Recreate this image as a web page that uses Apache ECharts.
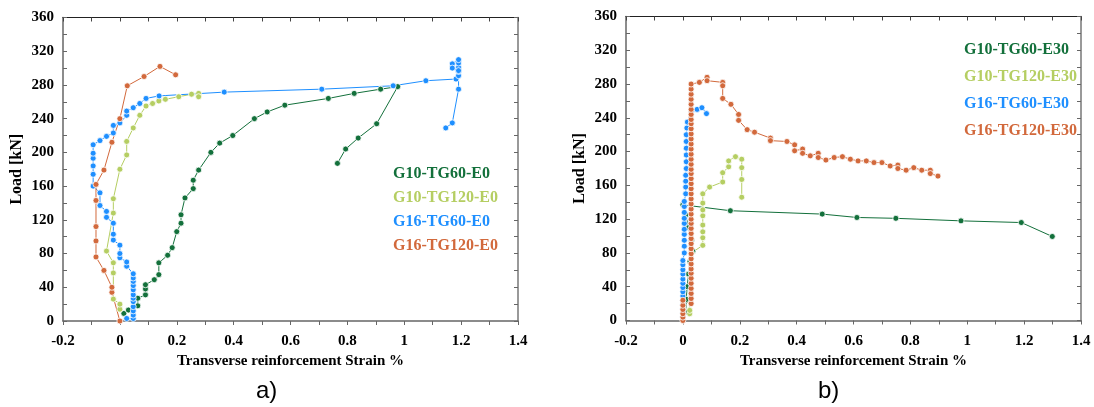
<!DOCTYPE html>
<html>
<head>
<meta charset="utf-8">
<script src="https://cdn.jsdelivr.net/npm/echarts@6/dist/echarts.min.js"></script>
<style>
  html, body { margin: 0; padding: 0; background: #fff; }
  #chart { width: 1094px; height: 407px; }
</style>
</head>
<body>
<div id="chart"></div>
<script>
// [strain %, load kN] pairs in the order the curves run

// panel a) E0
const g10tg60e0 = [[0.014, 9], [0.03, 13], [0.063, 18], [0.063, 27], [0.09, 31], [0.09, 38], [0.09, 43], [0.121, 49],
  [0.137, 55], [0.137, 69], [0.168, 78], [0.184, 87], [0.2, 106], [0.215, 116], [0.215, 126], [0.229, 146],
  [0.258, 157], [0.258, 167], [0.277, 179], [0.32, 200], [0.351, 211], [0.397, 220], [0.473, 240], [0.518, 248],
  [0.58, 256], [0.733, 264], [0.824, 270], [0.917, 275], [0.977, 278], [0.903, 234], [0.838, 217], [0.794, 204],
  [0.765, 187]]
const g10tg120e0 = [[0, 14], [0, 20], [-0.023, 26], [-0.023, 57], [-0.023, 69], [-0.047, 83], [-0.023, 128],
  [-0.023, 145], [0, 180], [0.024, 197], [0.024, 213], [0.047, 229], [0.07, 244], [0.092, 255], [0.115, 258],
  [0.137, 261], [0.16, 263], [0.207, 266], [0.252, 269], [0.277, 270], [0.277, 266]]
const g16tg60e0 = [[0.024, 3], [0.047, 3], [0.047, 7], [0.047, 12], [0.047, 17], [0.047, 23], [0.047, 27],
  [0.047, 31], [0.047, 37], [0.047, 42], [0.047, 47], [0.047, 51], [0.047, 56], [0.024, 65], [0.024, 70],
  [0, 75], [0, 80], [0, 90], [-0.023, 96], [-0.023, 103], [-0.023, 116], [-0.047, 123], [-0.047, 130],
  [-0.07, 137], [-0.07, 152], [-0.094, 160], [-0.094, 174], [-0.094, 184], [-0.094, 193], [-0.094, 199],
  [-0.094, 209], [-0.07, 214], [-0.047, 219], [-0.023, 223], [-0.023, 232], [0, 235], [0.024, 244], [0.024, 249],
  [0.047, 253], [0.07, 258], [0.092, 264], [0.138, 267], [0.367, 271.5], [0.71, 275], [0.961, 279], [1.076, 285],
  [1.182, 287], [1.191, 291], [1.191, 296], [1.191, 301], [1.191, 306], [1.191, 310], [1.169, 305], [1.169, 300],
  [1.191, 297], [1.191, 275], [1.169, 235], [1.146, 229]]
const g16tg120e0 = [[0, 0], [-0.028, 34], [-0.028, 40], [-0.056, 60], [-0.084, 76], [-0.084, 95], [-0.084, 112],
  [-0.084, 143], [-0.084, 162], [-0.056, 179], [-0.028, 212], [0, 240], [0.026, 279], [0.085, 290], [0.141, 302],
  [0.196, 292]]

// panel b) E30
const g10tg60e30 = [[0.01, 10], [0.012, 25], [0.015, 40], [0.02, 55], [0.025, 70], [0.035, 82], [0.03, 95],
  [0.02, 110], [0.01, 125], [0, 137], [0.167, 130], [0.49, 126], [0.612, 122], [0.749, 121], [0.978, 118],
  [1.19, 116], [1.299, 99.5]]
const g10tg120e30 = [[0.024, 8], [0.024, 12], [0.03, 80], [0.07, 89], [0.07, 98], [0.07, 105], [0.07, 113],
  [0.07, 124], [0.07, 131], [0.07, 139], [0.07, 150], [0.094, 158], [0.14, 164], [0.14, 175], [0.161, 182],
  [0.161, 189], [0.185, 194], [0.207, 191], [0.207, 181], [0.207, 167], [0.207, 146]]
const g16tg60e30 = [[0, 4], [0, 9], [0, 14], [0, 19], [0, 24], [0, 29], [0, 34], [0, 39], [0, 44], [0, 49],
  [0, 55], [0, 60], [0, 66], [0, 71], [0.005, 80], [0.005, 88], [0.005, 95], [0.005, 102], [0.005, 108],
  [0.005, 115], [0.005, 121], [0.005, 128], [0.005, 135], [0.005, 141], [0.01, 150], [0.01, 158], [0.01, 165],
  [0.01, 172], [0.012, 180], [0.012, 188], [0.012, 196], [0.012, 204], [0.012, 212], [0.012, 220], [0.014, 228],
  [0.016, 235], [0.03, 248], [0.05, 250], [0.067, 252], [0.083, 245]]
const g16tg120e30 = [[0, 0], [0, 4], [0, 8], [0, 13], [0, 18], [0, 24], [0.029, 20], [0.029, 26], [0.029, 32],
  [0.029, 38], [0.029, 44], [0.029, 50], [0.029, 56], [0.029, 61], [0.029, 67], [0.029, 73], [0.029, 79],
  [0.029, 85], [0.029, 91], [0.029, 97], [0.029, 103], [0.029, 109], [0.029, 115], [0.029, 120], [0.029, 126],
  [0.029, 132], [0.029, 138], [0.029, 144], [0.029, 150], [0.029, 156], [0.029, 162], [0.029, 168], [0.029, 174],
  [0.029, 179], [0.029, 185], [0.029, 191], [0.029, 197], [0.029, 203], [0.029, 209], [0.029, 215], [0.029, 221],
  [0.029, 227], [0.029, 233], [0.029, 238], [0.029, 244], [0.029, 250], [0.029, 256], [0.029, 262], [0.029, 268],
  [0.029, 274], [0.029, 280], [0.058, 282], [0.085, 288], [0.085, 284], [0.14, 282], [0.14, 278], [0.14, 263],
  [0.169, 256], [0.196, 244], [0.196, 237], [0.226, 226], [0.252, 223], [0.308, 216], [0.308, 213], [0.366, 212],
  [0.393, 208], [0.393, 201], [0.421, 203], [0.421, 198], [0.448, 195], [0.476, 198], [0.476, 193], [0.503, 190],
  [0.532, 193], [0.561, 194], [0.589, 191], [0.616, 189], [0.645, 189], [0.672, 187], [0.7, 187], [0.729, 183],
  [0.756, 184], [0.756, 180], [0.785, 178], [0.812, 181], [0.84, 178], [0.87, 178], [0.87, 174], [0.897, 171]]

const FONT = '"Liberation Serif", "Times New Roman", serif'
const DKGREEN = '#13703b'
const LTGREEN = '#b5ce62'
const BLUE = '#1e8fff'
const ORANGE = '#d2693c'

const chart = echarts.init(document.getElementById('chart'), null, { renderer: 'canvas' })

const labelStyle = { fontFamily: FONT, fontWeight: 'bold', fontSize: 15, color: '#000' }

// bottom axis + plain mirrored top axis for one panel
function xAxes(grid) {
  return [{
    gridIndex: grid, type: 'value', position: 'bottom', min: -0.2, max: 1.4, interval: 0.2,
    name: 'Transverse reinforcement Strain %', nameLocation: 'middle', nameGap: 33,
    nameTextStyle: labelStyle,
    axisLine: { show: true, onZero: false, lineStyle: { color: '#666', width: 1.5 } },
    axisTick: { show: true, inside: false, length: 4, lineStyle: { color: '#666' } },
    minorTick: { show: true, splitNumber: 2, length: 4, lineStyle: { color: '#666' } },
    axisLabel: Object.assign({ margin: 13 }, labelStyle),
    splitLine: { show: false }, minorSplitLine: { show: false }
  }, {
    gridIndex: grid, type: 'value', position: 'top', min: -0.2, max: 1.4, interval: 0.2,
    axisLine: { show: true, onZero: false, lineStyle: { color: '#222', width: 1 } },
    axisTick: { show: true, inside: true, length: 4, lineStyle: { color: '#444' } },
    minorTick: { show: true, splitNumber: 2, length: 4, lineStyle: { color: '#444' } },
    axisLabel: { show: false }, splitLine: { show: false }
  }]
}

function yAxes(grid) {
  return [{
    gridIndex: grid, type: 'value', position: 'left', min: 0, max: 360, interval: 40,
    name: 'Load [kN]', nameLocation: 'middle', nameGap: 38,
    nameTextStyle: Object.assign({}, labelStyle, { fontSize: 16 }),
    axisLine: { show: true, onZero: false, lineStyle: { color: '#666', width: 1.5 } },
    axisTick: { show: true, inside: true, length: 4, lineStyle: { color: '#666' } },
    minorTick: { show: true, splitNumber: 2, length: 4, lineStyle: { color: '#666' } },
    axisLabel: Object.assign({ margin: 9 }, labelStyle),
    splitLine: { show: false }, minorSplitLine: { show: false }
  }, {
    gridIndex: grid, type: 'value', position: 'right', min: 0, max: 360, interval: 40,
    axisLine: { show: true, onZero: false, lineStyle: { color: '#777', width: 1.5 } },
    axisTick: { show: true, inside: true, length: 4, lineStyle: { color: '#666' } },
    minorTick: { show: true, splitNumber: 2, length: 4, lineStyle: { color: '#666' } },
    axisLabel: { show: false }, splitLine: { show: false }
  }]
}

function curve(name, data, color, panel) {
  return {
    name: name, type: 'line', data: data,
    xAxisIndex: panel * 2, yAxisIndex: panel * 2,
    symbol: 'circle', symbolSize: 6, showAllSymbol: true,
    lineStyle: { width: 1, color: color },
    itemStyle: { color: color, borderColor: '#fff', borderWidth: 0.8 },
    emphasis: { disabled: true }
  }
}

function legendFor(left, top, gap, names, colors) {
  return {
    orient: 'vertical', left: left, top: top, itemGap: gap, padding: 0,
    icon: 'circle', itemWidth: 0, itemHeight: 0, selectedMode: false,
    textStyle: { fontFamily: FONT, fontWeight: 'bold', fontSize: 16 },
    data: names.map((n, i) => ({ name: n, textStyle: { color: colors[i] } }))
  }
}

const colors = [DKGREEN, LTGREEN, BLUE, ORANGE]

chart.setOption({
  animation: false,
  backgroundColor: '#fff',
  grid: [
    { left: 63, top: 17.5, width: 455, height: 303.5, outerBoundsMode: 'none' },
    { left: 626, top: 16.5, width: 455, height: 304, outerBoundsMode: 'none' }
  ],
  xAxis: xAxes(0).concat(xAxes(1)),
  yAxis: yAxes(0).concat(yAxes(1)),
  legend: [
    legendFor(387, 166, 8, ['G10-TG60-E0', 'G10-TG120-E0', 'G16-TG60-E0', 'G16-TG120-E0'], colors),
    legendFor(958, 42, 11, ['G10-TG60-E30', 'G10-TG120-E30', 'G16-TG60-E30', 'G16-TG120-E30'], colors)
  ],
  graphic: [
    { type: 'text', left: 256, top: 379, style: { text: 'a)', font: '24px "Liberation Sans", Arial, sans-serif', fill: '#000' } },
    { type: 'text', left: 818, top: 379, style: { text: 'b)', font: '24px "Liberation Sans", Arial, sans-serif', fill: '#000' } }
  ],
  series: [
    curve('G10-TG60-E0', g10tg60e0, DKGREEN, 0),
    curve('G10-TG120-E0', g10tg120e0, LTGREEN, 0),
    curve('G16-TG60-E0', g16tg60e0, BLUE, 0),
    curve('G16-TG120-E0', g16tg120e0, ORANGE, 0),
    curve('G10-TG60-E30', g10tg60e30, DKGREEN, 1),
    curve('G10-TG120-E30', g10tg120e30, LTGREEN, 1),
    curve('G16-TG60-E30', g16tg60e30, BLUE, 1),
    curve('G16-TG120-E30', g16tg120e30, ORANGE, 1)
  ]
})
</script>
</body>
</html>
